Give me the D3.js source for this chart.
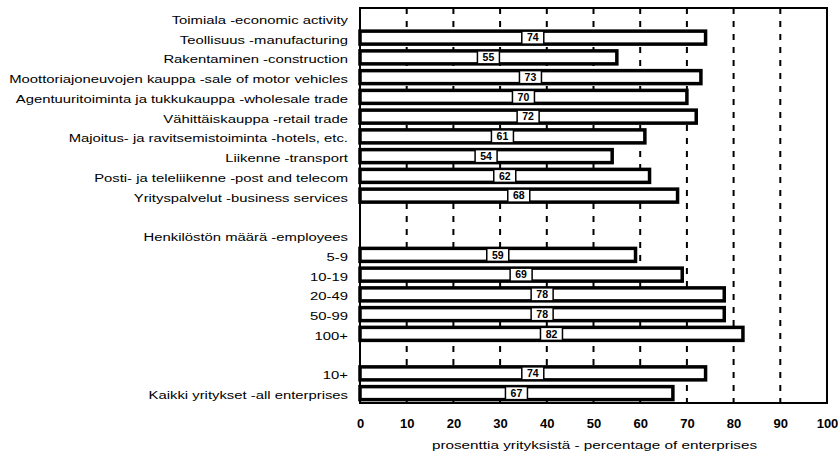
<!DOCTYPE html>
<html><head><meta charset="utf-8">
<script src="https://cdn.jsdelivr.net/npm/d3@7"></script>
<style>
html,body{margin:0;padding:0;background:#fff;}
svg{display:block;font-family:"Liberation Sans",Arial,sans-serif;}
</style></head>
<body>
<svg id="chart" width="838" height="454"></svg>
<script>
const categories = [
  "Toimiala -economic activity",
  "Teollisuus -manufacturing",
  "Rakentaminen -construction",
  "Moottoriajoneuvojen kauppa -sale of motor vehicles",
  "Agentuuritoiminta ja tukkukauppa -wholesale trade",
  "Vähittäiskauppa -retail trade",
  "Majoitus- ja ravitsemistoiminta -hotels, etc.",
  "Liikenne -transport",
  "Posti- ja teleliikenne -post and telecom",
  "Yrityspalvelut -business services",
  "",
  "Henkilöstön määrä -employees",
  "5-9",
  "10-19",
  "20-49",
  "50-99",
  "100+",
  "",
  "10+",
  "Kaikki yritykset -all enterprises"
];
const values = [null, 74, 55, 73, 70, 72, 61, 54, 62, 68, null, null, 59, 69, 78, 78, 82, null, 74, 67];
const xTicks = [0, 10, 20, 30, 40, 50, 60, 70, 80, 90, 100];
const xTitle = "prosenttia yrityksistä - percentage of enterprises";

const svg = d3.select("#chart");
const pL = 360, pR = 827, pT = 8, pB = 403;

const x = d3.scaleLinear().domain([0, 100]).range([pL, pR]);
const y = d3.scaleBand().domain(d3.range(categories.length)).range([pT, pB]).paddingInner(0).paddingOuter(0);

// gridlines
svg.append("g").selectAll("line").data(xTicks.filter(t => t > 0 && t < 100)).join("line")
  .attr("x1", d => x(d)).attr("x2", d => x(d))
  .attr("y1", pT).attr("y2", pB)
  .attr("stroke", "#000").attr("stroke-width", 2).attr("stroke-dasharray", "6,7");

// bars
const bh = 13;
const rows = categories.map((c, i) => ({c, i, v: values[i]}));
const barRows = rows.filter(d => d.v != null);
svg.append("g").selectAll("rect").data(barRows).join("rect")
  .attr("x", x(0))
  .attr("y", d => y(d.i) + y.bandwidth() / 2 - bh / 2)
  .attr("width", d => x(d.v) - x(0))
  .attr("height", bh)
  .attr("fill", "#fff").attr("stroke", "#000").attr("stroke-width", 3.5);

// value labels
const lab = svg.append("g").selectAll("g").data(barRows).join("g")
  .attr("transform", d => `translate(${x(d.v / 2)},${y(d.i) + y.bandwidth() / 2})`);
lab.append("rect").attr("x", -11).attr("y", -6.5).attr("width", 22).attr("height", 13)
  .attr("fill", "#fff").attr("stroke", "#000").attr("stroke-width", 1.5);
lab.append("text").attr("text-anchor", "middle").attr("dy", "0.36em")
  .attr("font-size", 10.5).attr("font-weight", "bold").text(d => d.v);

// frame
svg.append("rect").attr("x", pL).attr("y", pT).attr("width", pR - pL).attr("height", pB - pT)
  .attr("fill", "none").attr("stroke", "#000").attr("stroke-width", 2);

// category labels (scanned type is horizontally wide)
svg.append("g").selectAll("text").data(rows.filter(d => d.c)).join("text")
  .attr("transform", d => `translate(348,${y(d.i) + y.bandwidth() / 2 + 2}) scale(1.29,1)`)
  .attr("dy", "0.35em").attr("text-anchor", "end")
  .attr("font-size", 11.5).attr("fill", "#000").text(d => d.c);

// x axis
const ax = svg.append("g").attr("transform", `translate(0,${pB + 6})`)
  .call(d3.axisBottom(x).tickValues(xTicks).tickSize(0).tickPadding(10));
ax.select(".domain").remove();
ax.selectAll("text").attr("font-size", 13).attr("font-weight", "bold").attr("fill", "#000")
  .attr("font-family", "'Liberation Sans',Arial,sans-serif");

svg.append("text").attr("transform", `translate(${(pL + pR) / 2 + 1},449) scale(1.33,1)`)
  .attr("text-anchor", "middle").attr("font-size", 11.5).attr("fill", "#000").text(xTitle);
</script>
</body></html>
